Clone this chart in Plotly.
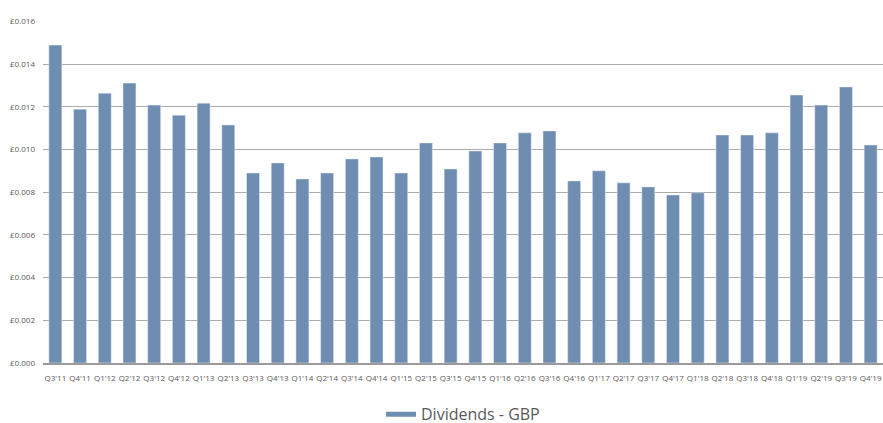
import plotly.graph_objects as go

quarters = ["Q3'11", "Q4'11", "Q1'12", "Q2'12", "Q3'12", "Q4'12", "Q1'13", "Q2'13",
            "Q3'13", "Q4'13", "Q1'14", "Q2'14", "Q3'14", "Q4'14", "Q1'15", "Q2'15",
            "Q3'15", "Q4'15", "Q1'16", "Q2'16", "Q3'16", "Q4'16", "Q1'17", "Q2'17",
            "Q3'17", "Q4'17", "Q1'18", "Q2'18", "Q3'18", "Q4'18", "Q1'19", "Q2'19",
            "Q3'19", "Q4'19"]
dividends_gbp = [0.01489, 0.01189, 0.01264, 0.01311, 0.01208, 0.01161, 0.01217, 0.01115,
                 0.00890, 0.00937, 0.00862, 0.00890, 0.00956, 0.00965, 0.00890, 0.01031,
                 0.00909, 0.00993, 0.01031, 0.01078, 0.01087, 0.00853, 0.00900, 0.00844,
                 0.00825, 0.00787, 0.00797, 0.01068, 0.01068, 0.01078, 0.01255, 0.01208,
                 0.01293, 0.01021]
y_ticks = [0.000, 0.002, 0.004, 0.006, 0.008, 0.010, 0.012, 0.014, 0.016]
y_tick_labels = ["£%.3f" % v for v in y_ticks]

bar_color = "#6F8DB1"
text_color = "#595959"

fig = go.Figure()
fig.add_trace(go.Bar(x=list(range(len(quarters))), y=dividends_gbp, marker_color=bar_color,
                     showlegend=False, name="Dividends - GBP"))
fig.add_trace(go.Scatter(x=[None], y=[None], mode="lines", name="Dividends - GBP",
                         line=dict(color=bar_color, width=5)))

fig.update_layout(
    width=883, height=423,
    margin=dict(l=43, r=0, t=21, b=60, autoexpand=False),
    plot_bgcolor="white", paper_bgcolor="white",
    bargap=0.476,
    font=dict(family="Open Sans", color=text_color, size=8),
    xaxis=dict(tickmode="array", tickvals=list(range(len(quarters))), ticktext=quarters,
               range=[-0.5, len(quarters) - 0.5], showgrid=False, showline=True,
               linecolor="#9a9a9a", linewidth=1.5, ticks="", tickangle=0, automargin=False,
               ticklabelstandoff=7, tickfont=dict(size=8, color=text_color)),
    yaxis=dict(range=[0, 0.01602], tickvals=y_ticks, ticktext=y_tick_labels,
               showgrid=True, gridcolor="#ababab", gridwidth=1, zeroline=False,
               automargin=False, ticklabelstandoff=7,
               tickfont=dict(size=8, color=text_color), ticks=""),
    legend=dict(orientation="h", x=0.5, xanchor="center", y=-0.15, yanchor="middle",
                font=dict(size=16, color=text_color, family="Open Sans"),
                itemwidth=30),
)

fig.write_html("out.html", config={"displayModeBar": False},
               post_script="document.body.style.margin='0';document.body.style.overflow='hidden';")
